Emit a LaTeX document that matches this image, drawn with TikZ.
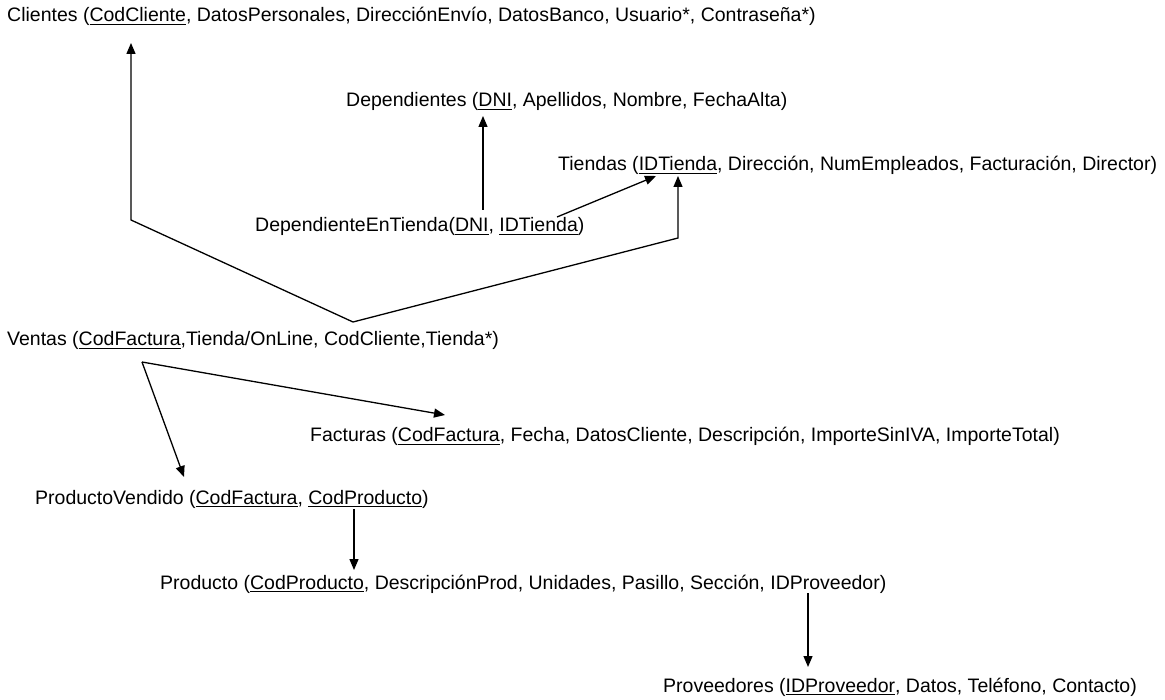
\documentclass[tikz,border=0pt]{standalone}
\usepackage{fontspec}
\setmainfont{Liberation Sans}
\usetikzlibrary{arrows.meta}
\newcommand\keyu[1]{\setbox0\hbox{#1}\rlap{\rule[-3pt]{\wd0}{1.3pt}}\box0}
\begin{document}
\begin{tikzpicture}[x=1pt,y=-1pt,
  rel/.style={anchor=base west, inner sep=0pt, font=\fontsize{19.5}{23}\selectfont},
  fk/.style={line width=1.3pt, -{Triangle[length=11pt,width=9pt]}},
  seg/.style={line width=1.3pt}]
\useasboundingbox (0,0) rectangle (1165,700);

\node[rel] (clientes) at (7,22) {Clientes (\keyu{CodCliente}, DatosPersonales, DirecciónEnvío, DatosBanco, Usuario*, Contraseña*)};
\node[rel] (dependientes) at (346,107) {Dependientes (\keyu{DNI}, Apellidos, Nombre, FechaAlta)};
\node[rel] (tiendas) at (558,171) {Tiendas (\keyu{IDTienda}, Dirección, NumEmpleados, Facturación, Director)};
\node[rel] (depentienda) at (255,232) {DependienteEnTienda(\keyu{DNI}, \keyu{IDTienda})};
\node[rel] (ventas) at (7,346) {Ventas (\keyu{CodFactura},Tienda/OnLine, CodCliente,Tienda*)};
\node[rel] (facturas) at (310,442) {Facturas (\keyu{CodFactura}, Fecha, DatosCliente, Descripción, ImporteSinIVA, ImporteTotal)};
\node[rel] (prodvend) at (35,504) {ProductoVendido (\keyu{CodFactura}, \keyu{CodProducto})};
\node[rel] (producto) at (160,589) {Producto (\keyu{CodProducto}, DescripciónProd, Unidades, Pasillo, Sección, IDProveedor)};
\node[rel] (proveedores) at (663,692) {Proveedores (\keyu{IDProveedor}, Datos, Teléfono, Contacto)};

\coordinate (vTop) at (353,322);
\coordinate (cBend) at (131,220);
\coordinate (cTip) at (131,43);
\coordinate (tBend) at (678,238);
\coordinate (tTip2) at (678,176);
\coordinate (dStart) at (483,210);
\coordinate (dTip) at (483,116);
\coordinate (dtStart) at (557,217);
\coordinate (tTip1) at (656,176);
\coordinate (vApex) at (142,362);
\coordinate (fTip) at (445,415);
\coordinate (pvTip) at (184,477);
\coordinate (pvStart) at (354,509);
\coordinate (pTip) at (354,570);
\coordinate (pStart) at (808,593);
\coordinate (prTip) at (808,667);

\draw[fk] (vTop) -- (cBend) -- (cTip);
\draw[fk] (vTop) -- (tBend) -- (tTip2);
\draw[fk] (dStart) -- (dTip);
\draw[fk] (dtStart) -- (tTip1);
\draw[fk] (vApex) -- (fTip);
\draw[fk] (vApex) -- (pvTip);
\draw[fk] (pvStart) -- (pTip);
\draw[fk] (pStart) -- (prTip);
\end{tikzpicture}
\end{document}
